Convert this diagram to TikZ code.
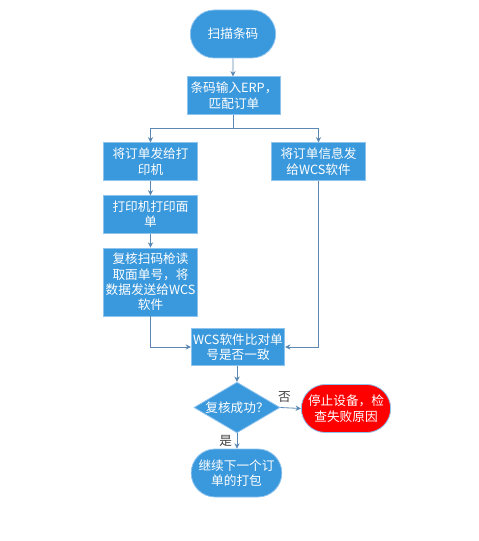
\documentclass[tikz,border=0pt]{standalone}
\usepackage{fontspec}
\newfontfamily\cjk{Noto Sans CJK SC}
\usetikzlibrary{shapes.geometric,arrows.meta}
\definecolor{boxblue}{HTML}{3A98DC}
\definecolor{edgeblue}{HTML}{8EC3EE}
\definecolor{linecol}{HTML}{5A88B2}
\definecolor{stopred}{HTML}{FF0000}
\tikzset{
  x=0.75pt,y=-0.75pt,
  base/.style={draw=edgeblue,line width=0.6pt,fill=boxblue,text=white,align=center,inner sep=1pt,font=\cjk\fontsize{9.5}{11.5}\selectfont},
  procbox/.style={base,rectangle,minimum width=70pt,minimum height=28pt},
  termbox/.style={base,rounded rectangle,minimum width=66pt,minimum height=36pt},
  decbox/.style={base,diamond,aspect=1.7,minimum width=64.5pt,minimum height=38pt,inner sep=0pt},
  conn/.style={draw=linecol,line width=0.6pt,-{Stealth[length=4pt,width=4pt]}},
  plain/.style={draw=linecol,line width=0.6pt},
  lbl/.style={font=\cjk\fontsize{9.5}{11.5}\selectfont,text=black!75}
}
\usetikzlibrary{shapes.misc}
\begin{document}
\begin{tikzpicture}
\useasboundingbox (0,0) rectangle (478,541);
\node[termbox] (start) at (233,34) {扫描条码};
\node[procbox] (erp) at (234,95.5) {条码输入ERP，\\匹配订单};
\node[procbox] (sendp) at (150.5,161.5) {将订单发给打\\印机};
\node[procbox] (sendw) at (318.5,161.5) {将订单信息发\\给WCS软件};
\node[procbox] (print) at (150.5,214.5) {打印机打印面\\单};
\node[procbox,minimum height=51pt] (scan) at (150.5,282) {复核扫码枪读\\取面单号，将\\数据发送给WCS\\软件};
\node[procbox] (cmp) at (238,347) {WCS软件比对单\\号是否一致};
\node[decbox] (dec) at (237,407.5) {复核成功？};
\node[termbox,fill=stopred,minimum width=69pt] (stop) at (346,408.5) {停止设备，检\\查失败原因};
\node[termbox,minimum width=70pt] (next) at (236.5,473) {继续下一个订\\单的打包};
\coordinate (split) at (233,128);
\draw[conn] (start) -- (erp.north -| start);
\draw[plain] (erp.south -| split) -- (split);
\draw[plain] (split -| sendp) -- (split -| sendw);
\draw[conn] (split -| sendp) -- (sendp);
\draw[conn] (split -| sendw) -- (sendw);
\draw[conn] (sendp) -- (print);
\draw[conn] (print) -- (scan);
\draw[conn] (scan.south) |- (cmp.west);
\draw[conn] (sendw.south) |- (cmp.east);
\draw[conn] (cmp.south -| dec) -- (dec.north);
\draw[conn] (dec.east) -- node[lbl,above,pos=0.2] {否} (stop.west);
\draw[conn] (dec.south) -- node[lbl,left,pos=0.5] {是} (next.north -| dec);
\end{tikzpicture}
\end{document}
